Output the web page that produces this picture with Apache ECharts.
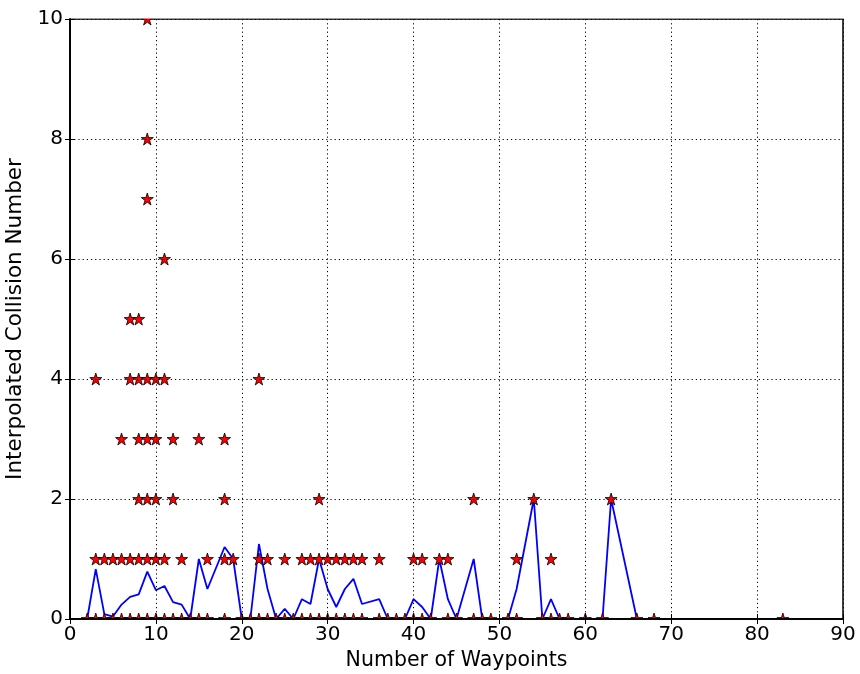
<!DOCTYPE html>
<html>
<head>
<meta charset="utf-8">
<script src="https://cdn.jsdelivr.net/npm/echarts@6/dist/echarts.min.js"></script>
<style>
html,body{margin:0;padding:0;background:#fff;}
#chart{width:860px;height:674px;}
</style>
</head>
<body>
<div id="chart"></div>
<script>
// Mean collision number per waypoint count (blue line)
const meanX = [2,3,4,5,6,7,8,9,10,11,12,13,14,15,16,18,19,20,21,22,23,24,25,26,27,28,29,30,31,32,33,34,36,37,38,39,40,41,42,43,44,45,47,48,49,51,52,54,55,56,57,58,60,62,63,66,68,83];
const meanY = [0,0.83,0.08,0.04,0.24,0.37,0.41,0.79,0.48,0.55,0.28,0.24,0,1.0,0.5,1.2,1.0,0,0,1.25,0.5,0,0.17,0,0.33,0.25,1.0,0.5,0.2,0.5,0.67,0.25,0.33,0,0,0,0.33,0.2,0,1.0,0.33,0,1.0,0,0,0,0.5,2.0,0,0.33,0,0,0,0,2.0,0,0,0];

// Individual runs (red stars): waypoint counts observed at each collision level
const runsAt0 = [2,3,4,5,6,7,8,9,10,11,12,13,14,15,16,18,20,21,22,23,24,25,26,27,28,29,30,31,32,33,34,36,37,38,39,40,41,42,44,45,47,48,49,51,52,55,56,57,58,60,62,66,68,83];
const runsAt1 = [3,4,5,6,7,8,9,10,11,13,16,18,19,22,23,25,27,28,29,30,31,32,33,34,36,40,41,43,44,52,56];
const runsAt2 = [8,9,10,12,18,29,47,54,63];
const runsAt3 = [6,8,9,10,12,15,18];
const runsAt4 = [3,7,8,9,10,11,22];
const runsAt5 = [7,8];
const runsAt6 = [11];
const runsAt7 = [9];
const runsAt8 = [9];
const runsAt10 = [9];

const xTicks = [0,10,20,30,40,50,60,70,80,90];
const yTicks = [0,2,4,6,8,10];

const levels = [[0,runsAt0],[1,runsAt1],[2,runsAt2],[3,runsAt3],[4,runsAt4],[5,runsAt5],[6,runsAt6],[7,runsAt7],[8,runsAt8],[10,runsAt10]];
const starData = [];
levels.forEach(([lv, xs]) => xs.forEach(x => starData.push([x, lv])));
const lineData = meanX.map((x, i) => [x, meanY[i]]);

const STAR = 'path://M50,0 L61.23,34.55 L97.55,34.55 L68.17,55.9 L79.39,90.45 L50,69.1 L20.61,90.45 L31.83,55.9 L2.45,34.55 L38.77,34.55 Z';
const FONT = 'DejaVu Sans';

const chart = echarts.init(document.getElementById('chart'), null, {renderer: 'canvas'});

const axisCommon = {
  axisLine: {show: true, lineStyle: {color: '#000', width: 1.5}},
  axisTick: {show: true, inside: true, length: 5, lineStyle: {color: '#000', width: 1}},
};

chart.setOption({
  animation: false,
  backgroundColor: '#fff',
  grid: {left: 70, right: 17, top: 19, bottom: 55, containLabel: false, outerBoundsMode: 'none',
         show: true, borderColor: '#000', borderWidth: 1.5, backgroundColor: 'transparent'},
  xAxis: [
    Object.assign({}, axisCommon, {
      type: 'value', position: 'bottom', min: xTicks[0], max: xTicks[xTicks.length-1], interval: 10, z: 20,
      name: 'Number of Waypoints', nameLocation: 'middle', nameGap: 31,
      nameTextStyle: {fontFamily: FONT, fontSize: 20.5, color: '#000'},
      axisLabel: {fontFamily: FONT, fontSize: 20, color: '#000', margin: 6},
      splitLine: {show: true, lineStyle: {color: '#000', type: [1.2, 3], width: 1}}
    }),
    Object.assign({}, axisCommon, {
      type: 'value', position: 'top', min: xTicks[0], max: xTicks[xTicks.length-1], interval: 10, z: 20,
      axisLabel: {show: false}, splitLine: {show: false}
    })
  ],
  yAxis: [
    Object.assign({}, axisCommon, {
      type: 'value', position: 'left', min: yTicks[0], max: yTicks[yTicks.length-1], interval: 2, z: 20,
      name: 'Interpolated Collision Number', nameLocation: 'middle', nameGap: 36,
      nameTextStyle: {fontFamily: FONT, fontSize: 21.5, color: '#000'},
      axisLabel: {fontFamily: FONT, fontSize: 20, color: '#000', margin: 7},
      splitLine: {show: true, lineStyle: {color: '#000', type: [1.2, 3], width: 1}}
    }),
    Object.assign({}, axisCommon, {
      type: 'value', position: 'right', min: yTicks[0], max: yTicks[yTicks.length-1], interval: 2, z: 20,
      axisLabel: {show: false}, splitLine: {show: false}
    })
  ],
  series: [
    {
      type: 'line', data: lineData, xAxisIndex: 0, yAxisIndex: 0, z: 2,
      showSymbol: false, symbol: 'none',
      lineStyle: {color: '#0000ff', width: 1.8}, clip: true
    },
    {
      type: 'scatter', data: starData, xAxisIndex: 0, yAxisIndex: 0, z: 3,
      symbol: STAR, symbolSize: 12, clip: false,
      itemStyle: {color: '#ff0000', borderColor: '#000', borderWidth: 0.8, opacity: 1}
    }
  ]
});

// White masks outside the plotting area so markers are clipped at the frame like the original
const pBottom = chart.convertToPixel({gridIndex: 0}, [0, yTicks[0]]);
const pTop = chart.convertToPixel({gridIndex: 0}, [0, yTicks[yTicks.length-1]]);
chart.setOption({
  graphic: [
    {type: 'rect', silent: true, z: 10, shape: {x: 0, y: 0, width: 860, height: pTop[1] - 0.5}, style: {fill: '#fff'}},
    {type: 'rect', silent: true, z: 10, shape: {x: 0, y: pBottom[1] + 0.5, width: 860, height: 674 - pBottom[1]}, style: {fill: '#fff'}}
  ]
});
</script>
</body>
</html>
